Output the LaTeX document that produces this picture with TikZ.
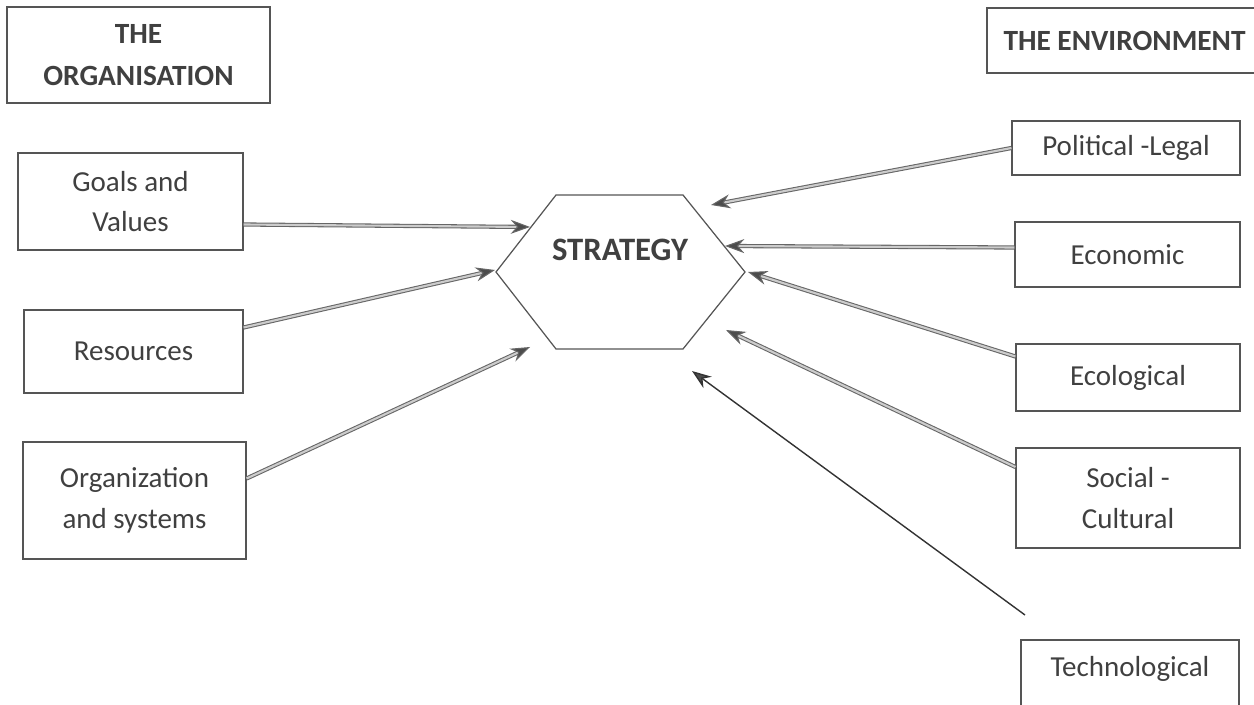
\documentclass[tikz,border=0pt]{standalone}
\usepackage{fontspec}
\setmainfont{Carlito}
\usepackage{tikz}
\usetikzlibrary{arrows.meta,calc}
\definecolor{ink}{RGB}{64, 64, 64}
\definecolor{rule}{RGB}{85, 85, 85}

\begin{document}
\begin{tikzpicture}[
    x=0.02cm, y=-0.02cm,
    factor/.style={draw=rule, line width=0.7pt, text=ink, inner sep=0pt,
        align=center, font=\fontsize{16.5}{23}\selectfont},
    heading/.style={factor, font=\fontsize{16.7}{23.5}\selectfont\bfseries},
    feed/.style={-{Stealth[length=11pt, width=8pt, fill=black!70]},
        draw=black!60, line width=0.6pt, double=black!20, double distance=1.2pt},
    thin feed/.style={-{Stealth[length=11pt, width=8pt, fill=black!70]},
        draw=black!80, line width=0.8pt},
]
\useasboundingbox (0,0) rectangle (1254,705);
\clip (0,0) rectangle (1254,705);

% === HEADINGS ===
\node[heading, minimum width=5.26cm, minimum height=1.92cm] (org) at (138.5,55) {THE\\ORGANISATION};
\node[heading, minimum width=5.5cm, minimum height=1.3cm] (env) at (1124.5,40.5) {THE ENVIRONMENT};

% === STRATEGY ===
\node[font=\fontsize{18.6}{22}\selectfont\bfseries, text=ink] (strat) at (620,250) {STRATEGY};
\coordinate (hexnw) at (556,195);
\coordinate (hexne) at (683,195);
\coordinate (hexe) at (745,272);
\coordinate (hexse) at (683,349);
\coordinate (hexsw) at (556,349);
\coordinate (hexw) at (496,272);
\draw[rule, line width=0.7pt] (hexnw) -- (hexne) -- (hexe) -- (hexse) -- (hexsw) -- (hexw) -- cycle;

% arrow ends near the hexagon
\coordinate (ingoals) at (530,227);
\coordinate (inres) at (495,270);
\coordinate (inorg) at (530,347);
\coordinate (inpol) at (711,205);
\coordinate (ineco) at (725,246);
\coordinate (inecol) at (748,272);
\coordinate (insoc) at (726,330);
\coordinate (intech) at (692,371);

% === ORGANISATION SIDE ===
\node[factor, minimum width=4.5cm, minimum height=1.94cm] (goals) at (130.5,201.5) {Goals and\\Values};
\node[factor, minimum width=4.38cm, minimum height=1.66cm] (res) at (133.5,351.5) {Resources};
\node[factor, minimum width=4.46cm, minimum height=2.34cm] (orgsys) at (134.5,500.5) {Organization\\and systems};

\draw[feed] ($(goals.east)+(0,23)$) -- (ingoals);
\draw[feed] ($(res.east)+(0,-24)$) -- (inres);
\draw[feed] ($(orgsys.east)+(0,-22)$) -- (inorg);

% === ENVIRONMENT SIDE ===
\node[factor, minimum width=4.56cm, minimum height=1.08cm] (pol) at (1126,148) {Political -Legal};
\node[factor, minimum width=4.5cm, minimum height=1.3cm] (eco) at (1127.5,254.5) {Economic};
\node[factor, minimum width=4.48cm, minimum height=1.34cm] (ecol) at (1128,377.5) {Ecological};
\node[factor, minimum width=4.48cm, minimum height=2cm] (soc) at (1128,498) {Social -\\Cultural};
\node[factor, minimum width=4.36cm, minimum height=1.68cm, text height=11pt, text depth=17pt] (tech) at (1130,682) {Technological};
\coordinate (techtail) at (1025,615);

\draw[feed] (pol.west) -- (inpol);
\draw[feed] ($(eco.west)+(0,-7)$) -- (ineco);
\draw[feed] ($(ecol.west)+(0,-21)$) -- (inecol);
\draw[feed] ($(soc.west)+(0,-31)$) -- (insoc);
\draw[thin feed] (techtail) -- (intech);

\end{tikzpicture}
\end{document}
